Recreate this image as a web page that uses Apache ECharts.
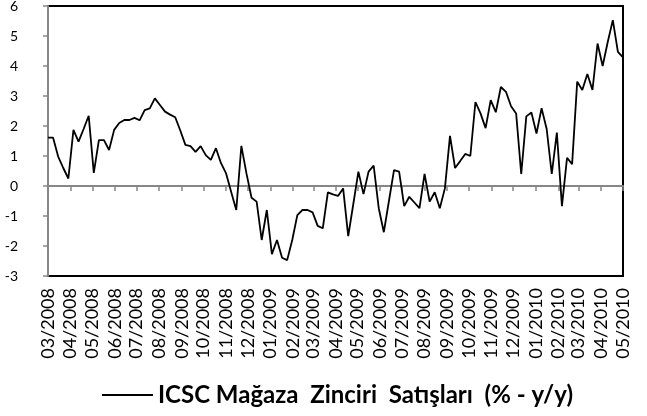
<!DOCTYPE html>
<html>
<head>
<meta charset="utf-8">
<script src="https://cdn.jsdelivr.net/npm/echarts@6/dist/echarts.min.js"></script>
<style>
  html, body { margin: 0; padding: 0; background: #fff; }
  #chart { width: 647px; height: 416px; }
</style>
</head>
<body>
<div id="chart"></div>
<script>
// weekly series, first week ending 01.03.2008
const firstWeek = "2008-03-01";
const seriesName = "ICSC Mağaza  Zinciri  Satışları  (% - y/y)";
const salesValues = [
  1.61, 1.61, 0.98, 0.6, 0.25, 1.87, 1.48, 1.9, 2.34, 0.44,
  1.53, 1.53, 1.2, 1.87, 2.1, 2.2, 2.2, 2.27, 2.19, 2.53,
  2.59, 2.92, 2.7, 2.48, 2.38, 2.29, 1.85, 1.37, 1.33, 1.14,
  1.33, 1.03, 0.87, 1.26, 0.76, 0.42, -0.2, -0.8, 1.34, 0.42,
  -0.39, -0.52, -1.8, -0.8, -2.27, -1.8, -2.39, -2.47, -1.8, -0.97,
  -0.8, -0.8, -0.88, -1.33, -1.41, -0.21, -0.28, -0.33, -0.08, -1.67,
  -0.6, 0.48, -0.27, 0.48, 0.68, -0.74, -1.54, -0.5, 0.53, 0.48,
  -0.67, -0.36, -0.55, -0.74, 0.4, -0.52, -0.21, -0.74, -0.08, 1.67,
  0.6, 0.83, 1.07, 1.0, 2.8, 2.42, 1.93, 2.86, 2.46, 3.3,
  3.14, 2.66, 2.42, 0.4, 2.32, 2.45, 1.75, 2.59, 1.9, 0.4,
  1.78, -0.67, 0.94, 0.73, 3.48, 3.2, 3.73, 3.2, 4.75, 4.0,
  4.8, 5.53, 4.47, 4.29
];
// month ticks on the date axis
const monthTicks = [
  "2008-03-01", "2008-04-01", "2008-05-01", "2008-06-01", "2008-07-01",
  "2008-08-01", "2008-09-01", "2008-10-01", "2008-11-01", "2008-12-01",
  "2009-01-01", "2009-02-01", "2009-03-01", "2009-04-01", "2009-05-01",
  "2009-06-01", "2009-07-01", "2009-08-01", "2009-09-01", "2009-10-01",
  "2009-11-01", "2009-12-01", "2010-01-01", "2010-02-01", "2010-03-01",
  "2010-04-01", "2010-05-01"
];

const DAY = 86400000;
const start = new Date(firstWeek).getTime();
const seriesData = salesValues.map((v, i) => [start + i * 7 * DAY, v]);
const tickTimes = monthTicks.map(s => new Date(s).getTime());

function monthLabel(val) {
  const d = new Date(val);
  const m = d.getUTCMonth() + 1;
  return (m < 10 ? "0" + m : "" + m) + "/" + d.getUTCFullYear();
}

const axisGray = "#868686";
const chart = echarts.init(document.getElementById("chart"));
const option = {
  animation: false,
  grid: {
    left: 48, right: 24, top: 6, bottom: 140,
    show: true, borderColor: "#000", borderWidth: 2,
    containLabel: false, outerBoundsMode: "none"
  },
  legend: {
    data: [{ name: seriesName, icon: "rect" }],
    left: 97, top: 378,
    itemWidth: 51, itemHeight: 2,
    textStyle: { fontFamily: "Lato", fontWeight: "bold", fontSize: 24, color: "#000" }
  },
  xAxis: [
    {
      type: "value",
      min: tickTimes[0], max: tickTimes[tickTimes.length - 1],
      axisLine: { onZero: true, lineStyle: { color: axisGray, width: 2 } },
      axisTick: { show: true, customValues: tickTimes, length: 5, lineStyle: { color: axisGray, width: 1.5 } },
      axisLabel: { show: false },
      splitLine: { show: false }
    },
    {
      type: "value",
      min: tickTimes[0], max: tickTimes[tickTimes.length - 1],
      position: "bottom",
      axisLine: { show: false, onZero: false },
      axisTick: { show: false },
      axisLabel: {
        customValues: tickTimes, rotate: 90, margin: 12,
        fontFamily: "Lato", fontSize: 18, color: "#000",
        formatter: monthLabel
      },
      splitLine: { show: false }
    }
  ],
  yAxis: {
    type: "value", min: -3, max: 6, interval: 1,
    axisLine: { show: true, lineStyle: { color: axisGray, width: 2 } },
    axisTick: { show: true, length: 5, lineStyle: { color: axisGray, width: 1.5 } },
    axisLabel: { fontFamily: "Lato", fontSize: 14, color: "#000", margin: 30, align: "right" },
    splitLine: { show: false }
  },
  series: [
    {
      name: seriesName,
      type: "line",
      xAxisIndex: 0,
      data: seriesData,
      symbol: "none",
      color: "#000",
      lineStyle: { color: "#000", width: 1.8 }
    }
  ]
};
chart.setOption(option);
</script>
</body>
</html>
